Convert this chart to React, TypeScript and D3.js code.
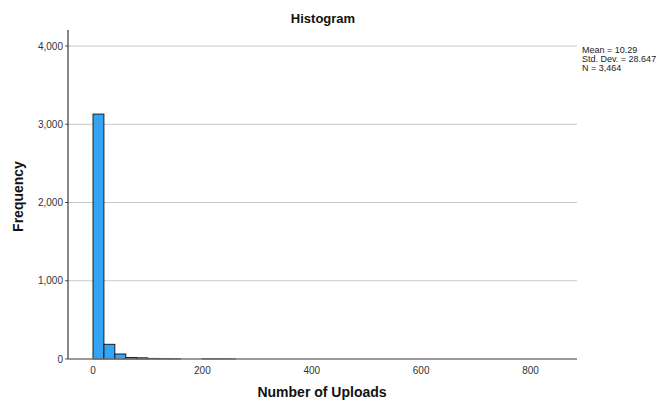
import React from "react";
import * as d3 from "d3";

const binStarts = [0, 20, 40, 60, 80, 100, 120, 140, 160, 180, 200, 220, 240];
const binCounts = [3130, 188, 64, 20, 15, 8, 5, 4, 0, 0, 3, 3, 2];
const binWidth = 20;
const yTicks = [0, 1000, 2000, 3000, 4000];
const xTicks = [0, 200, 400, 600, 800];
const stats = ["Mean = 10.29", "Std. Dev. = 28.647", "N = 3,464"];

const W = 665;
const H = 401;
const left = 68;
const right = 577;
const top = 30;
const bottom = 359;

export default function App() {
  const x = d3.scaleLinear().domain([-45.7, 885]).range([left, right]);
  const y = d3.scaleLinear().domain([0, 4000]).range([bottom, bottom - 4 * 78.25]);
  const font = "'Liberation Sans', Arial, sans-serif";
  return (
    <svg width={W} height={H} style={{ position: "absolute", left: 0, top: 0 }} fontFamily={font}>
      <rect width={W} height={H} fill="#fff" />
      {yTicks.slice(1).map((t) => (
        <line key={t} x1={left} x2={right} y1={y(t)} y2={y(t)} stroke="#c8c8c8" strokeWidth={1} />
      ))}
      {yTicks.map((t) => (
        <g key={"yt" + t}>
          <line x1={left - 3} x2={left} y1={y(t)} y2={y(t)} stroke="#555" />
          <text x={left - 5} y={y(t)} dy="0.35em" textAnchor="end" fontSize={10} fill="#333">
            {d3.format(",")(t)}
          </text>
        </g>
      ))}
      {binStarts.map((s, i) =>
        binCounts[i] > 0 ? (
          <rect
            key={s}
            x={x(s)}
            y={y(binCounts[i])}
            width={x(s + binWidth) - x(s)}
            height={y(0) - y(binCounts[i])}
            fill="#33a3f4"
            stroke="#111"
            strokeWidth={0.9}
          />
        ) : null
      )}
      <line x1={left} x2={left} y1={top} y2={bottom} stroke="#111" strokeWidth={1} />
      <line x1={left} x2={right} y1={bottom} y2={bottom} stroke="#777" strokeWidth={1.5} />
      {xTicks.map((t) => (
        <text key={"xt" + t} x={x(t)} y={bottom + 15} textAnchor="middle" fontSize={10} fill="#333">
          {t}
        </text>
      ))}
      <text x={323} y={23} textAnchor="middle" fontSize={13} fontWeight="bold" fill="#111">
        Histogram
      </text>
      <text
        transform={`translate(23,${(top + bottom) / 2 + 2}) rotate(-90)`}
        textAnchor="middle"
        fontSize={14}
        fontWeight="bold"
        fill="#111"
      >
        Frequency
      </text>
      <text x={322} y={397} textAnchor="middle" fontSize={14} fontWeight="bold" fill="#111">
        Number of Uploads
      </text>
      {stats.map((s, i) => (
        <text key={s} x={582} y={53 + i * 9} fontSize={9} fill="#222">
          {s}
        </text>
      ))}
    </svg>
  );
}
